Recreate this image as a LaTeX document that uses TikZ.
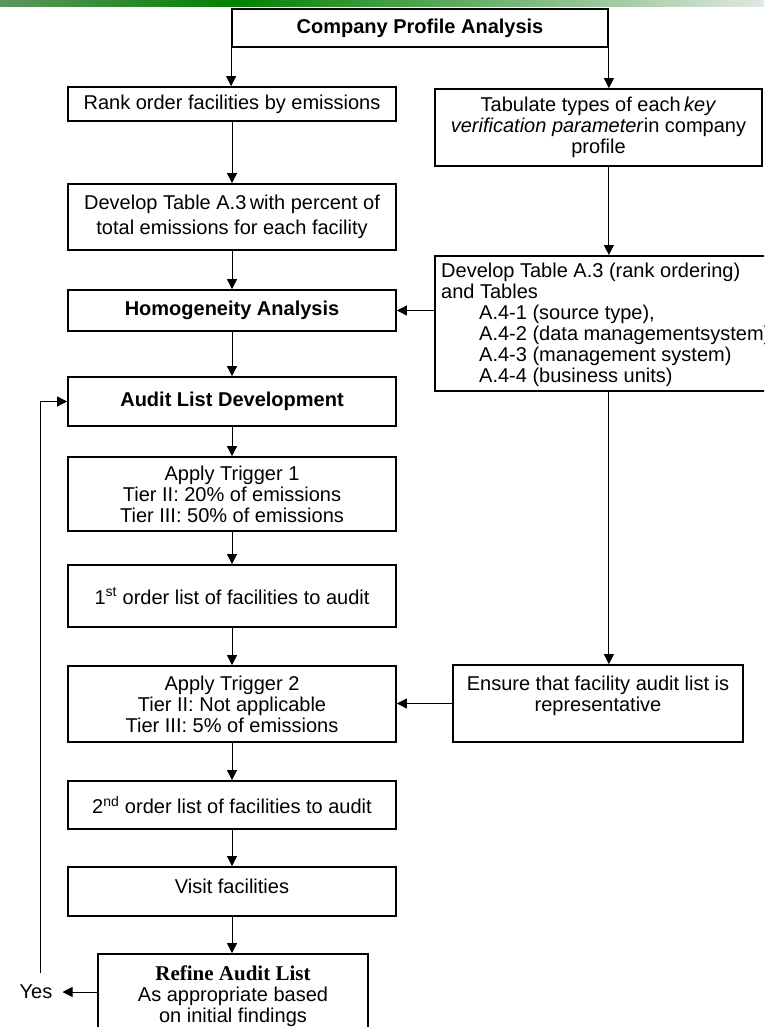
\documentclass[tikz,border=0pt]{standalone}
\usepackage{fontspec}
\setmainfont{Liberation Sans}
\newfontfamily\serifbf{Liberation Serif}
\usetikzlibrary{arrows.meta}
\newcommand\boxfont{\fontsize{20}{21}\selectfont}
\definecolor{barL}{RGB}{95,150,95}
\definecolor{barM}{RGB}{0,128,0}
\definecolor{barR}{RGB}{225,232,225}
\begin{document}
\begin{tikzpicture}[x=1pt,y=-1pt,
  box/.style={draw, line width=1.8pt, fill=white, align=center, inner sep=0pt, font=\boxfont},
  lbox/.style={box, minimum width=328},
  conn/.style={line width=0.9pt},
  arr/.style={conn, -{Triangle[length=10pt,width=10pt]}}]
\path[use as bounding box, clip] (0,0) rectangle (764,1027);
\fill[white] (0,0) rectangle (764,1027);
% top gradient bar
\shade[left color=barL, right color=barM] (0,0) rectangle (234.5,7);
\shade[left color=barM, right color=barR] (234,0) rectangle (764,7);
% nodes
\node[box, minimum width=376, minimum height=38, font=\boxfont\bfseries] (comp) at (420,28) {Company Profile Analysis};
\node[lbox, minimum height=34] (rank) at (232,104) {Rank order facilities by emissions};
\node[lbox, minimum height=66] (devL) at (232,217) {Develop Table A.3\,with percent of\\[4pt]total emissions for each facility};
\node[lbox, minimum height=41, font=\boxfont\bfseries] (homog) at (232,310.5) {Homogeneity Analysis};
\node[lbox, minimum height=49, font=\boxfont\bfseries] (audit) at (232,401.5) {Audit List Development};
\node[lbox, minimum height=74] (trig1) at (232,494) {Apply Trigger 1\\Tier II: 20\% of emissions\\Tier III: 50\% of emissions};
\node[lbox, minimum height=62] (first) at (232,596) {1\textsuperscript{st} order list of facilities to audit};
\node[lbox, minimum height=76] (trig2) at (232,704) {Apply Trigger 2\\Tier II: Not applicable\\Tier III: 5\% of emissions};
\node[lbox, minimum height=48] (second) at (232,805) {2\textsuperscript{nd} order list of facilities to audit};
\node[lbox, minimum height=49, text height=14.6pt, text depth=11.6pt] (visit) at (232,891.5) {Visit facilities};
\node[box, minimum width=270, minimum height=84] (refine) at (233,996) {{\serifbf\bfseries\fontsize{21}{21}\selectfont Refine Audit List}\\As appropriate based\\on initial findings};
\node[box, minimum width=327, minimum height=77] (tab) at (598.5,127.5) {Tabulate types of each\,\textit{key}\\\textit{verification parameter}in company\\profile};
\node[box, minimum width=360, minimum height=135, anchor=north west] (devR) at (434,255) {};
\node[anchor=north west, align=left, inner sep=0pt, font=\boxfont] (devRt) at (441,262.5) {Develop Table A.3 (rank ordering)\\and Tables\\\hspace*{38pt}A.4-1 (source type),\\\hspace*{38pt}A.4-2 (data managementsystem)\\\hspace*{38pt}A.4-3 (management system)\\\hspace*{38pt}A.4-4 (business units)};
\node[box, minimum width=290, minimum height=77] (ensure) at (598,703.5) {};
\node[anchor=north, align=center, inner sep=0pt, font=\boxfont] (ensuret) at (598,676) {Ensure that facility audit list is\\representative};
\node[inner sep=0pt, font=\boxfont] (yes) at (36,992) {Yes};
\coordinate (loopstart) at (40,973);
% connectors
\draw[arr] (comp.south west) -- (comp.south west |- rank.north);
\draw[arr] (comp.south east) -- (comp.south east |- tab.north);
\draw[arr] (rank) -- (devL);
\draw[arr] (devL) -- (homog);
\draw[arr] (homog) -- (audit);
\draw[arr] (audit) -- (trig1);
\draw[arr] (trig1) -- (first);
\draw[arr] (first) -- (trig2);
\draw[arr] (trig2) -- (second);
\draw[arr] (second) -- (visit);
\draw[arr] (visit.south) -- (visit.south |- refine.north);
\draw[arr] (comp.south east |- tab.south) -- (comp.south east |- devR.north);
\draw[arr] (devR.west |- homog.east) -- (homog.east);
\draw[arr] (comp.south east |- devR.south) -- (comp.south east |- ensure.north);
\draw[arr] (ensure.west) -- (ensure.west -| trig2.east);
\draw[arr] (refine.west |- yes.east) -- ([xshift=10pt]yes.east);
\draw[arr] (loopstart) |- (audit.west);
\end{tikzpicture}
\end{document}
